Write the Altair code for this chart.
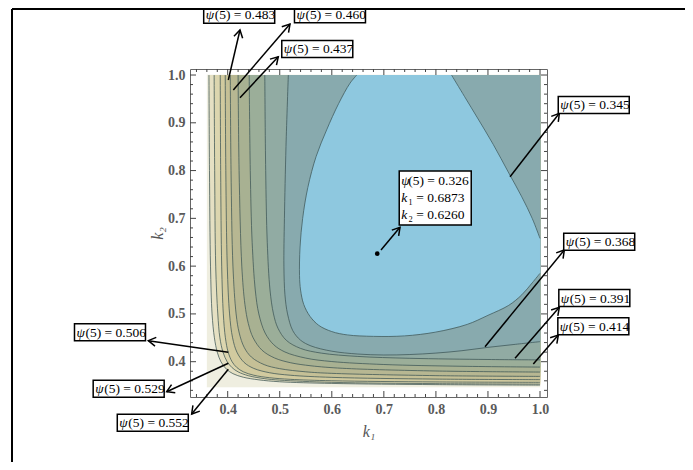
import math
import altair as alt
import pandas as pd

# ---------------- data ----------------
levels = [0.345, 0.368, 0.391, 0.414, 0.437, 0.460, 0.483, 0.506, 0.529, 0.552]

# contour lines, listed from the top edge towards the right edge (k1, k2)
c552_k1 = [0.364, 0.365, 0.367, 0.370, 0.3745, 0.380, 0.387, 0.3975, 0.41, 0.43, 0.46, 0.50, 0.60, 0.80, 1.0]
c552_k2 = [1.0, 0.8, 0.6, 0.5, 0.45, 0.42, 0.40, 0.3845, 0.375, 0.3675, 0.362, 0.358, 0.3545, 0.352, 0.351]
c529_k1 = [0.374, 0.375, 0.377, 0.381, 0.385, 0.391, 0.399, 0.4085, 0.42, 0.44, 0.47, 0.50, 0.60, 0.80, 1.0]
c529_k2 = [1.0, 0.8, 0.6, 0.5, 0.45, 0.42, 0.40, 0.3875, 0.3787, 0.3706, 0.3646, 0.3614, 0.3568, 0.3541, 0.3531]
c506_k1 = [0.3857, 0.3865, 0.3885, 0.3916, 0.3956, 0.4009, 0.4084, 0.4172, 0.43, 0.45, 0.48, 0.52, 0.60, 0.80, 1.0]
c506_k2 = [1.0, 0.8, 0.6, 0.5, 0.45, 0.42, 0.40, 0.3882, 0.3789, 0.3717, 0.3665, 0.3631, 0.3601, 0.3576, 0.3568]
c483_k1 = [0.3953, 0.3964, 0.3992, 0.4036, 0.4094, 0.4177, 0.4315, 0.45, 0.48, 0.52, 0.60, 0.80, 1.0]
c483_k2 = [1.0, 0.8, 0.6, 0.5, 0.45, 0.42, 0.3985, 0.386, 0.377, 0.3717, 0.3672, 0.3636, 0.3624]
c460_k1 = [0.405, 0.4064, 0.4101, 0.4162, 0.4222, 0.4317, 0.4456, 0.47, 0.50, 0.55, 0.60, 0.80, 1.0]
c460_k2 = [1.0, 0.8, 0.6, 0.5, 0.46, 0.43, 0.4096, 0.3939, 0.3854, 0.3788, 0.3756, 0.3708, 0.3692]
c437_k1 = [0.420, 0.4219, 0.4271, 0.4331, 0.4396, 0.4489, 0.466, 0.49, 0.52, 0.56, 0.62, 0.80, 1.0]
c437_k2 = [1.0, 0.8, 0.6, 0.52, 0.48, 0.45, 0.424, 0.4078, 0.398, 0.3914, 0.3862, 0.3805, 0.3783]
c414_k1 = [0.4413, 0.4434, 0.447, 0.453, 0.4598, 0.4719, 0.4885, 0.51, 0.55, 0.60, 0.70, 0.85, 1.0]
c414_k2 = [1.0, 0.8, 0.65, 0.55, 0.50, 0.46, 0.4355, 0.4203, 0.4075, 0.4003, 0.3941, 0.3904, 0.3887]
c391_k1 = [0.4713, 0.473, 0.476, 0.4813, 0.488, 0.4966, 0.5127, 0.54, 0.58, 0.65, 0.75, 0.90, 1.0]
c391_k2 = [1.0, 0.8, 0.65, 0.55, 0.50, 0.47, 0.4447, 0.4278, 0.4179, 0.411, 0.4071, 0.4046, 0.4038]
c368_k1 = [0.5165, 0.512, 0.509, 0.508, 0.510, 0.515, 0.525, 0.54, 0.56, 0.60, 0.65, 0.70, 0.75, 0.80, 0.85, 0.90, 0.95, 1.0]
c368_k2 = [1.0, 0.85, 0.70, 0.60, 0.54, 0.50, 0.465, 0.445, 0.433, 0.422, 0.416, 0.414, 0.415, 0.418, 0.423, 0.43, 0.436, 0.442]
# 0.345: upper-right piece (top edge -> right edge) and main piece (right edge -> top edge)
c345a_k1 = [0.83, 0.855, 0.88, 0.91, 0.94, 0.965, 0.985, 1.0]
c345a_k2 = [1.0, 0.955, 0.91, 0.855, 0.795, 0.745, 0.70, 0.658]
c345b_k1 = [1.0, 0.985, 0.965, 0.94, 0.90, 0.86, 0.80, 0.74, 0.68, 0.63, 0.60, 0.575, 0.558, 0.546,
            0.540, 0.538, 0.539, 0.544, 0.554, 0.570, 0.590, 0.613, 0.635, 0.648]
c345b_k2 = [0.585, 0.565, 0.540, 0.518, 0.497, 0.478, 0.462, 0.454, 0.453, 0.456, 0.463, 0.476, 0.495, 0.52,
            0.55, 0.58, 0.64, 0.70, 0.765, 0.83, 0.885, 0.94, 0.983, 1.0]

# extent of the computed field
field_k1 = [0.360, 1.0]
field_k2 = [0.347, 1.0]

# fill colour of the region below each level (and above the highest)
band_colors = {
    "above": "#EFEEE0",
    0.552: "#E5E0C3",
    0.529: "#DCD6AF",
    0.506: "#D1CA9F",
    0.483: "#C5C096",
    0.460: "#B7B792",
    0.437: "#A8B192",
    0.414: "#9BAE99",
    0.391: "#91ABA3",
    0.368: "#88AAAE",
    0.345: "#8EC8DF",
}

# optimum
opt_k1 = [0.6873]
opt_k2 = [0.6260]

# annotations: label, box centre, arrow tail (on the contour), arrow head
ann_text = ["0.483", "0.460", "0.437", "0.345", "0.368", "0.391", "0.414", "0.506", "0.529", "0.552"]
ann_box_k1 = [0.4221, 0.5965, 0.5721, 1.1032, 1.1137, 1.1043, 1.1024, 0.1739, 0.2098, 0.2561]
ann_box_k2 = [1.1263, 1.1271, 1.0545, 0.9373, 0.6512, 0.5333, 0.4741, 0.4615, 0.3435, 0.2721]
ann_tail_k1 = [0.4012, 0.4108, 0.4236, 0.9424, 0.8943, 0.9520, 0.9871, 0.4012, 0.4012, 0.4012]
ann_tail_k2 = [0.9896, 0.9688, 0.9525, 0.7872, 0.4314, 0.4071, 0.3952, 0.4197, 0.3967, 0.3841]
ann_head_k1 = [0.4236, 0.5197, 0.4972, 1.0371, 1.0467, 1.0371, 1.0352, 0.2475, 0.2828, 0.3308]
ann_head_k2 = [1.0942, 1.1068, 1.0383, 0.9199, 0.6338, 0.5139, 0.4559, 0.4440, 0.3372, 0.2905]

opt_box_k1 = [0.7987]
opt_box_k2 = [0.7428]
opt_tail_k1 = [0.6945]
opt_tail_k2 = [0.6338]
opt_head_k1 = [0.7310]
opt_head_k2 = [0.6813]
opt_lines = ["ψ", "k", "k"]
opt_rest = ["(5) = 0.326", "₁ = 0.6873", "₂ = 0.6260"]

major_ticks = [0.4, 0.5, 0.6, 0.7, 0.8, 0.9, 1.0]
minor_ticks = [0.34, 0.36, 0.38, 0.42, 0.44, 0.46, 0.48, 0.52, 0.54, 0.56, 0.58, 0.62, 0.64, 0.66, 0.68,
               0.72, 0.74, 0.76, 0.78, 0.82, 0.84, 0.86, 0.88, 0.92, 0.94, 0.96, 0.98]

# ---------------- layout ----------------
W, H = 357, 328
PAD = {"left": 182, "top": 61, "right": 138, "bottom": 65}
X_DOM = [0.3276, 1.0134]
Y_DOM = [0.3261, 1.0126]
SX = W / (X_DOM[1] - X_DOM[0])
SY = H / (Y_DOM[1] - Y_DOM[0])
xs = alt.Scale(domain=X_DOM, nice=False, zero=False)
ys = alt.Scale(domain=Y_DOM, nice=False, zero=False)
SERIF = "Liberation Serif"
BOX_W, BOX_H = 71, 17
FS = 13.5

AX = alt.Axis(values=major_ticks, format=".1f", ticks=False, domain=False, grid=False,
              labelFont=SERIF, labelFontSize=14, labelFontWeight="bold", labelColor="#5a5a5a",
              labelPadding=5, title="k₁", titleFont=SERIF, titleFontStyle="italic",
              titleFontWeight="normal", titleFontSize=16, titleColor="#555", titlePadding=7)
AY = alt.Axis(values=major_ticks, format=".1f", ticks=False, domain=False, grid=False,
              labelFont=SERIF, labelFontSize=14, labelFontWeight="bold", labelColor="#5a5a5a",
              labelPadding=5, title="k₂", titleFont=SERIF, titleFontStyle="italic",
              titleFontWeight="normal", titleFontSize=16, titleColor="#555", titlePadding=2)


def X(f):
    return alt.X(f, scale=xs, axis=AX)


def Y(f):
    return alt.Y(f, scale=ys, axis=AY)


contours = {
    0.552: (c552_k1, c552_k2), 0.529: (c529_k1, c529_k2), 0.506: (c506_k1, c506_k2),
    0.483: (c483_k1, c483_k2), 0.460: (c460_k1, c460_k2), 0.437: (c437_k1, c437_k2),
    0.414: (c414_k1, c414_k2), 0.391: (c391_k1, c391_k2), 0.368: (c368_k1, c368_k2),
}


def poly_layer(k1s, k2s, color):
    df = pd.DataFrame({"k1": k1s, "k2": k2s, "i": range(len(k1s))})
    return alt.Chart(df).mark_line(fill=color, stroke=color, strokeWidth=0.6, interpolate="linear").encode(
        x=X("k1:Q"), y=Y("k2:Q"), order="i:Q",
    )


layers = []
# background field
layers.append(poly_layer([field_k1[0], field_k1[1], field_k1[1], field_k1[0]],
                         [field_k2[0], field_k2[0], field_k2[1], field_k2[1]], band_colors["above"]))
for lev in [0.552, 0.529, 0.506, 0.483, 0.460, 0.437, 0.414, 0.391, 0.368]:
    k1s, k2s = contours[lev]
    layers.append(poly_layer(k1s + [1.0], k2s + [1.0], band_colors[lev]))
layers.append(poly_layer(c345a_k1 + c345b_k1, c345a_k2 + c345b_k2, band_colors[0.345]))

# contour lines
rows = []
for lev, (k1s, k2s) in contours.items():
    for i, (a, b) in enumerate(zip(k1s, k2s)):
        rows.append({"seg": str(lev), "i": i, "k1": a, "k2": b})
for name, (k1s, k2s) in {"0.345a": (c345a_k1, c345a_k2), "0.345b": (c345b_k1, c345b_k2)}.items():
    for i, (a, b) in enumerate(zip(k1s, k2s)):
        rows.append({"seg": name, "i": i, "k1": a, "k2": b})
lines_df = pd.DataFrame(rows)
layers.append(
    alt.Chart(lines_df).mark_line(color="#3d5555", strokeWidth=1, opacity=0.75, interpolate="catmull-rom").encode(
        x=X("k1:Q"), y=Y("k2:Q"), detail="seg:N", order="i:Q",
    )
)

# frame ticks (inward, all four sides)
for vals, lenv in ((major_ticks, 6), (minor_ticks, 3)):
    tdf = pd.DataFrame({"v": vals})
    base = alt.Chart(tdf).mark_rule(color="#444", strokeWidth=1)
    layers.append(base.encode(x=X("v:Q"), y=alt.value(H), y2=alt.value(H - lenv)))
    layers.append(base.encode(x=X("v:Q"), y=alt.value(0), y2=alt.value(lenv)))
    layers.append(base.encode(y=Y("v:Q"), x=alt.value(0), x2=alt.value(lenv)))
    layers.append(base.encode(y=Y("v:Q"), x=alt.value(W), x2=alt.value(W - lenv)))

# optimum point
layers.append(
    alt.Chart(pd.DataFrame({"k1": opt_k1, "k2": opt_k2})).mark_point(filled=True, color="black", size=22, opacity=1).encode(
        x=X("k1:Q"), y=Y("k2:Q")
    )
)

# arrows
arr = pd.DataFrame({
    "tx": ann_tail_k1 + opt_tail_k1, "ty": ann_tail_k2 + opt_tail_k2,
    "hx": ann_head_k1 + opt_head_k1, "hy": ann_head_k2 + opt_head_k2,
})
arr["angle"] = [
    (math.degrees(math.atan2((hx - tx) * SX, (hy - ty) * SY)) + 360) % 360
    for tx, ty, hx, hy in zip(arr.tx, arr.ty, arr.hx, arr.hy)
]
layers.append(
    alt.Chart(arr).mark_rule(color="black", strokeWidth=1.5).encode(
        x=X("tx:Q"), y=Y("ty:Q"), x2="hx:Q", y2="hy:Q"
    )
)
layers.append(
    alt.Chart(arr).mark_point(shape="M-0.6,1L0,0L0.6,1", filled=False, color="black", strokeWidth=1.5,
                              size=220, opacity=1).encode(
        x=X("hx:Q"), y=Y("hy:Q"), angle=alt.Angle("angle:Q", scale=None)
    )
)

# label boxes
box = pd.DataFrame({
    "x1": [c - BOX_W / 2 / SX for c in ann_box_k1], "x2": [c + BOX_W / 2 / SX for c in ann_box_k1],
    "y1": [c - BOX_H / 2 / SY for c in ann_box_k2], "y2": [c + BOX_H / 2 / SY for c in ann_box_k2],
    "yc": ann_box_k2,
    "txt": ["(5) = " + t for t in ann_text],
})
obox = pd.DataFrame({
    "x1": [opt_box_k1[0] - 36 / SX], "x2": [opt_box_k1[0] + 36 / SX],
    "y1": [opt_box_k2[0] - 27 / SY], "y2": [opt_box_k2[0] + 27 / SY],
})
for bdf in (box, obox):
    layers.append(
        alt.Chart(bdf).mark_rect(fill="white", stroke="black", strokeWidth=1.5).encode(
            x=X("x1:Q"), x2="x2:Q", y=Y("y1:Q"), y2="y2:Q",
        )
    )
layers.append(
    alt.Chart(box).mark_text(text="ψ", font=SERIF, fontStyle="italic", fontSize=FS, align="left",
                             baseline="middle", dx=2, dy=0.5, color="black").encode(
        x=X("x1:Q"), y=Y("yc:Q")
    )
)
layers.append(
    alt.Chart(box).mark_text(font=SERIF, fontSize=FS, align="left", baseline="middle", dx=11, dy=0.5,
                             color="black").encode(
        x=X("x1:Q"), y=Y("yc:Q"), text=alt.Text("txt:N"),
    )
)
# optimum box text
odf = pd.DataFrame({
    "x1": [obox.x1[0]] * 3,
    "k2": [opt_box_k2[0] + 17 / SY, opt_box_k2[0], opt_box_k2[0] - 17 / SY],
    "head": opt_lines, "rest": opt_rest,
})
layers.append(
    alt.Chart(odf).mark_text(font=SERIF, fontStyle="italic", fontSize=FS, align="left", baseline="middle",
                             dx=2, color="black").encode(
        x=X("x1:Q"), y=Y("k2:Q"), text="head:N"
    )
)
layers.append(
    alt.Chart(odf).mark_text(font=SERIF, fontSize=FS, align="left", baseline="middle", dx=9, color="black").encode(
        x=X("x1:Q"), y=Y("k2:Q"), text="rest:N"
    )
)

# outer figure border (top and left), kept inside the drawing area
border = pd.DataFrame({"a": [0]})
layers.append(alt.Chart(border).mark_rule(color="black", strokeWidth=2).encode(
    x=alt.value(-178), y=alt.value(-PAD["top"] + 1), y2=alt.value(H + PAD["bottom"])))
layers.append(alt.Chart(border).mark_rule(color="black", strokeWidth=2).encode(
    x=alt.value(-178), x2=alt.value(W + PAD["right"]), y=alt.value(-PAD["top"] + 1)))

chart = alt.layer(*layers).properties(
    width=W, height=H,
    padding=PAD,
    autosize=alt.AutoSizeParams(type="none"),
).configure_view(stroke="#666", strokeWidth=1)

chart.save("out.html", embed_options={"renderer": "svg", "actions": False})
